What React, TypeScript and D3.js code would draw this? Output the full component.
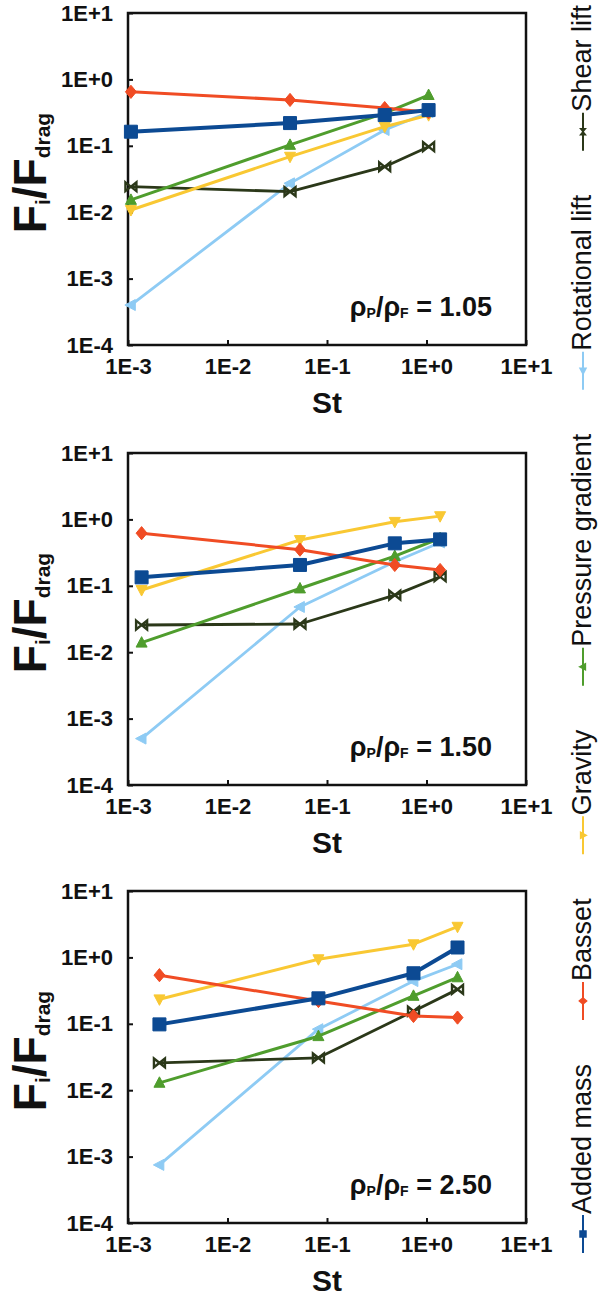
import React, { useEffect, useRef } from 'react'
import * as d3 from 'd3'

const W = 603
const H = 1297
const FONT = 'Liberation Sans, Arial, Helvetica, sans-serif'

// Stokes numbers (x) for each density ratio
const st105 = [0.00107, 0.0425, 0.38, 1.05]
const st150 = [0.00137, 0.0535, 0.48, 1.37]
const st250 = [0.00207, 0.082, 0.74, 2.05]

// Fi / Fdrag, rho_p/rho_f = 1.05
const addedMass105 = [0.163, 0.22, 0.29, 0.345]
const basset105 = [0.65, 0.49, 0.37, 0.32]
const pressure105 = [0.0153, 0.103, 0.31, 0.58]
const gravity105 = [0.0108, 0.0686, 0.194, 0.29]
const rotational105 = [0.0004, 0.0272, 0.173, 0.32]
const shear105 = [0.0242, 0.0204, 0.0484, 0.097]

// rho_p/rho_f = 1.50
const addedMass150 = [0.134, 0.206, 0.436, 0.5]
const basset150 = [0.62, 0.35, 0.206, 0.173]
const pressure150 = [0.0139, 0.091, 0.28, 0.52]
const gravity150 = [0.0865, 0.49, 0.92, 1.12]
const rotational150 = [0.0005, 0.048, 0.23, 0.45]
const shear150 = [0.0257, 0.0266, 0.0724, 0.137]

// rho_p/rho_f = 2.50
const addedMass250 = [0.098, 0.242, 0.577, 1.41]
const basset250 = [0.54, 0.22, 0.131, 0.124]
const pressure250 = [0.0129, 0.065, 0.263, 0.5]
const gravity250 = [0.234, 0.94, 1.58, 2.9]
const rotational250 = [0.00075, 0.083, 0.44, 0.79]
const shear250 = [0.0258, 0.0307, 0.155, 0.33]

const ratios = ['1.05', '1.50', '2.50']
const xTicks = [1e-3, 1e-2, 1e-1, 1e0, 1e1]
const yTicks = [1e-4, 1e-3, 1e-2, 1e-1, 1e0, 1e1]
const legendOrder = ['Shear lift', 'Rotational lift', 'Pressure gradient', 'Gravity', 'Basset', 'Added mass']
const drawOrder = ['Rotational lift', 'Shear lift', 'Gravity', 'Pressure gradient', 'Basset', 'Added mass']

const panels = [
  { ratio: ratios[0], st: st105, values: { 'Added mass': addedMass105, 'Basset': basset105, 'Pressure gradient': pressure105, 'Gravity': gravity105, 'Rotational lift': rotational105, 'Shear lift': shear105 } },
  { ratio: ratios[1], st: st150, values: { 'Added mass': addedMass150, 'Basset': basset150, 'Pressure gradient': pressure150, 'Gravity': gravity150, 'Rotational lift': rotational150, 'Shear lift': shear150 } },
  { ratio: ratios[2], st: st250, values: { 'Added mass': addedMass250, 'Basset': basset250, 'Pressure gradient': pressure250, 'Gravity': gravity250, 'Rotational lift': rotational250, 'Shear lift': shear250 } },
]

const styles: Record<string, { color: string, marker: string, width: number }> = {
  'Added mass': { color: '#0c4a93', marker: 'square', width: 4 },
  'Basset': { color: '#f04c24', marker: 'diamond', width: 3 },
  'Pressure gradient': { color: '#4f9d2d', marker: 'up', width: 3 },
  'Gravity': { color: '#f9c833', marker: 'down', width: 3 },
  'Rotational lift': { color: '#8ecbf4', marker: 'left', width: 2.8 },
  'Shear lift': { color: '#2b3819', marker: 'bowtie', width: 2.8 },
}

function markerPath(kind: string, s: number) {
  switch (kind) {
    case 'square': return `M${-s},${-s}H${s}V${s}H${-s}Z`
    case 'diamond': return `M0,${-s * 1.2}L${s},0L0,${s * 1.2}L${-s},0Z`
    case 'up': return `M0,${-s * 1.1}L${s},${s * 0.8}L${-s},${s * 0.8}Z`
    case 'down': return `M0,${s * 1.1}L${s},${-s * 0.8}L${-s},${-s * 0.8}Z`
    case 'left': return `M${-s * 1.1},0L${s * 0.8},${-s}L${s * 0.8},${s}Z`
    default: return `M${-s},${-s * 0.8}L${s},${s * 0.8}L${s},${-s * 0.8}L${-s},${s * 0.8}Z`
  }
}

const fmt = (v: number) => {
  const e = Math.round(Math.log10(v))
  return `1E${e >= 0 ? '+' : '-'}${Math.abs(e)}`
}

export default function App() {
  const ref = useRef<SVGSVGElement>(null)

  useEffect(() => {
    const svg = d3.select(ref.current)
    svg.selectAll('*').remove()
    svg.append('rect').attr('width', W).attr('height', H).attr('fill', '#fff')

    const left = 128, right = 526, plotH = 332
    const tops = [13, 453, 891]
    const x = d3.scaleLog().domain([1e-3, 1e1]).range([left, right])

    panels.forEach((p, i) => {
      const top = tops[i]
      const bottom = top + plotH
      const y = d3.scaleLog().domain([1e-4, 1e1]).range([bottom, top])
      const g = svg.append('g')

      const ax = g.append('g').attr('transform', `translate(0,${bottom})`)
        .call(d3.axisBottom(x).tickValues(xTicks).tickFormat(fmt as any).tickSizeInner(-5).tickSizeOuter(0).tickPadding(13))
      const ay = g.append('g').attr('transform', `translate(${left},0)`)
        .call(d3.axisLeft(y).tickValues(yTicks).tickFormat(fmt as any).tickSizeInner(-5).tickSizeOuter(0).tickPadding(15))
      for (const a of [ax, ay]) {
        a.select('.domain').remove()
        a.selectAll('line').attr('stroke', '#111').attr('stroke-width', 2)
        a.selectAll('text').attr('font-family', FONT).attr('font-size', 22).attr('font-weight', 'bold').attr('fill', '#111')
      }

      g.append('rect').attr('x', left).attr('y', top).attr('width', right - left).attr('height', plotH)
        .attr('fill', 'none').attr('stroke', '#111').attr('stroke-width', 2.5)

      const line = d3.line<[number, number]>().x(d => x(d[0])).y(d => y(d[1]))
      drawOrder.forEach(name => {
        const st = styles[name]
        const pts: [number, number][] = p.st.map((s, k) => [s, (p.values as any)[name][k]])
        g.append('path').attr('d', line(pts)).attr('fill', 'none').attr('stroke', st.color)
          .attr('stroke-width', st.width).attr('stroke-linejoin', 'round')
        const size = st.marker === 'square' ? 6.5 : 5.5
        g.selectAll(null).data(pts).enter().append('path')
          .attr('transform', d => `translate(${x(d[0])},${y(d[1])})`)
          .attr('d', markerPath(st.marker, size))
          .attr('fill', st.marker === 'bowtie' ? 'none' : st.color)
          .attr('stroke', st.color).attr('stroke-width', st.marker === 'bowtie' ? 2.4 : 1)
      })

      // y label
      const cy = (top + bottom) / 2 - 6
      const yl = g.append('text').attr('transform', `translate(46,${cy}) rotate(-90)`)
        .attr('text-anchor', 'middle').attr('font-family', FONT).attr('font-weight', 'bold').attr('fill', '#111')
      yl.append('tspan').attr('font-size', 46).text('F')
      yl.append('tspan').attr('font-size', 21).attr('dy', 4).text('i')
      yl.append('tspan').attr('font-size', 46).attr('dy', -4).text('/F')
      yl.append('tspan').attr('font-size', 21).attr('dy', 4).text('drag')

      // x label
      g.append('text').attr('x', (left + right) / 2).attr('y', bottom + 68).attr('text-anchor', 'middle')
        .attr('font-family', FONT).attr('font-weight', 'bold').attr('font-size', 30).attr('fill', '#111').text('St')

      // density ratio annotation
      const an = g.append('text').attr('x', right - 34).attr('y', bottom - 29).attr('text-anchor', 'end')
        .attr('font-family', FONT).attr('font-weight', 'bold').attr('fill', '#111')
      an.append('tspan').attr('font-size', 27).text('ρ')
      an.append('tspan').attr('font-size', 14).attr('dy', 2).text('P')
      an.append('tspan').attr('font-size', 27).attr('dy', -2).text('/ρ')
      an.append('tspan').attr('font-size', 14).attr('dy', 2).text('F')
      an.append('tspan').attr('font-size', 27).attr('dy', -2).text(` = ${p.ratio}`)
    })

    // legend, stacked bottom to top
    const lx = 583
    let y0 = 1253
    const lg = svg.append('g')
    legendOrder.slice().reverse().forEach(name => {
      const st = styles[name]
      lg.append('line').attr('x1', lx).attr('x2', lx).attr('y1', y0).attr('y2', y0 - 38)
        .attr('stroke', st.color).attr('stroke-width', 2)
      lg.append('path').attr('transform', `translate(${lx},${y0 - 19}) rotate(-90)`)
        .attr('d', markerPath(st.marker, 3))
        .attr('fill', st.marker === 'bowtie' ? 'none' : st.color).attr('stroke', st.color).attr('stroke-width', 1.5)
      const t = lg.append('text').attr('transform', `translate(${lx + 8},${y0 - 39}) rotate(-90)`)
        .attr('font-family', FONT).attr('font-size', 27).attr('fill', '#111').text(name)
      const len = (t.node() as SVGTextElement).getComputedTextLength()
      y0 = y0 - 39 - len - 44
    })
  }, [])

  return (
    <svg ref={ref} width={W} height={H} style={{ position: 'absolute', left: 0, top: 0, display: 'block' }} />
  )
}
